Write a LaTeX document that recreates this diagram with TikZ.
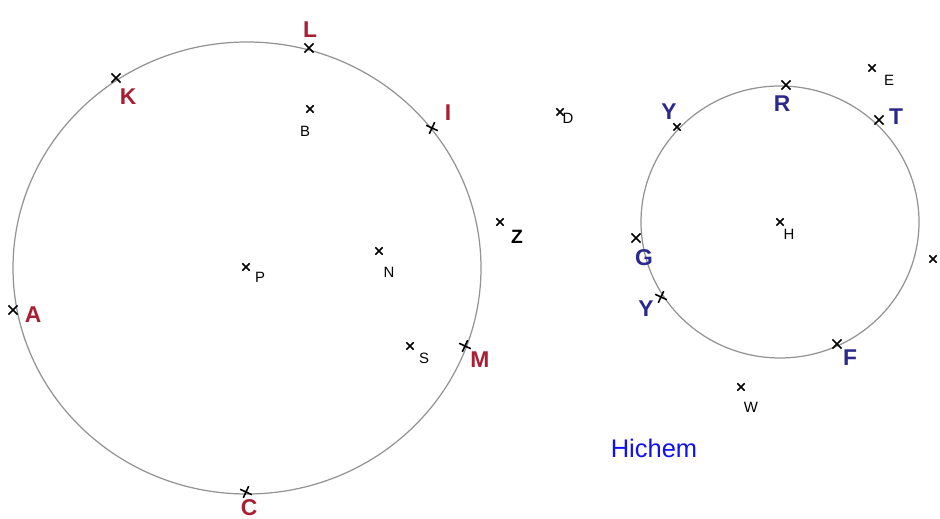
\documentclass[tikz,border=0pt]{standalone}
\usepackage{fontspec}
\setsansfont{Liberation Sans}
\usepackage{tikz}
\usetikzlibrary{shapes.misc}
\definecolor{inkred}{HTML}{A81E33}
\definecolor{inkblue}{HTML}{2B2A8C}
\definecolor{circgray}{HTML}{939393}
\definecolor{namblue}{HTML}{1010F0}

\tikzset{
  pt/.style={cross out,draw=black,line width=0.9pt,minimum size=0.15cm,inner sep=0pt},
  lbsmall/.style={font=\sffamily\fontsize{8.5}{10}\selectfont,inner sep=0pt},
  lbred/.style={font=\sffamily\bfseries\fontsize{13}{15}\selectfont,text=inkred,inner sep=0pt},
  lbblue/.style={font=\sffamily\bfseries\fontsize{13}{15}\selectfont,text=inkblue,inner sep=0pt},
  ring/.style={circgray,line width=0.7pt}
}

\begin{document}
\begin{tikzpicture}[x=0.02cm,y=-0.02cm]
    \useasboundingbox (0,0) rectangle (940,519);
    % the two circles
    \draw[ring] (247,268) ellipse [x radius=234,y radius=226];
    \draw[ring] (780,222) ellipse [x radius=139,y radius=136];
    % points of the left circle
    \node[pt] (ptL) at (309,48) {};
    \node[lbred] (lbL) at (310,30) {L};
    \node[pt] (ptK) at (116,78) {};
    \node[lbred] (lbK) at (128,97) {K};
    \node[pt,scale=0.8] (ptB) at (310,109) {};
    \node[lbsmall] (lbB) at (305,131) {B};
    \node[pt,rotate=20] (ptI) at (432,128) {};
    \node[lbred] (lbI) at (448,113) {I};
    \node[pt,scale=0.8] (ptD) at (560,112) {};
    \node[lbsmall] (lbD) at (568,118) {D};
    \node[pt,scale=0.8] (ptZ) at (500,222) {};
    \node[font=\sffamily\bfseries\fontsize{11}{13}\selectfont,inner sep=0pt] (lbZ) at (517,237) {Z};
    \node[pt,scale=0.8] (ptP) at (246,267) {};
    \node[lbsmall] (lbP) at (260,277) {P};
    \node[pt,scale=0.8] (ptN) at (379,251) {};
    \node[lbsmall] (lbN) at (389,272) {N};
    \node[pt] (ptA) at (13,310) {};
    \node[lbred] (lbA) at (33,315) {A};
    \node[pt,scale=0.8] (ptS) at (410,346) {};
    \node[lbsmall] (lbS) at (424,358) {S};
    \node[pt,rotate=20] (ptM) at (465,346) {};
    \node[lbred] (lbM) at (480,360) {M};
    \node[pt,rotate=20] (ptC) at (246,492) {};
    \node[lbred] (lbC) at (249,508) {C};
    % points of the right circle
    \node[pt,scale=0.8] (ptE) at (872,68) {};
    \node[lbsmall] (lbE) at (889,80) {E};
    \node[pt] (ptR) at (786,85) {};
    \node[lbblue] (lbR) at (782,104) {R};
    \node[pt,scale=0.8] (ptYa) at (677,127) {};
    \node[lbblue] (lbYa) at (669,112) {Y};
    \node[pt] (ptT) at (879,120) {};
    \node[lbblue] (lbT) at (896,117) {T};
    \node[pt,scale=0.8] (ptH) at (780,222) {};
    \node[lbsmall] (lbH) at (789,234) {H};
    \node[pt] (ptG) at (636,238) {};
    \node[lbblue] (lbG) at (644,258) {G};
    \node[pt,rotate=20] (ptYb) at (661,297) {};
    \node[lbblue] (lbYb) at (646,309) {Y};
    \node[pt] (ptF) at (837,344) {};
    \node[lbblue] (lbF) at (850,358) {F};
    \node[pt,scale=0.8] (ptW) at (741,387) {};
    \node[lbsmall] (lbW) at (751,407) {W};
    \node[pt,scale=0.8] (ptX) at (933,259) {};
    % signature
    \node[font=\sffamily\fontsize{14.5}{17}\selectfont,text=namblue,inner sep=0pt] (name) at (654,448) {Hichem};
\end{tikzpicture}
\end{document}
